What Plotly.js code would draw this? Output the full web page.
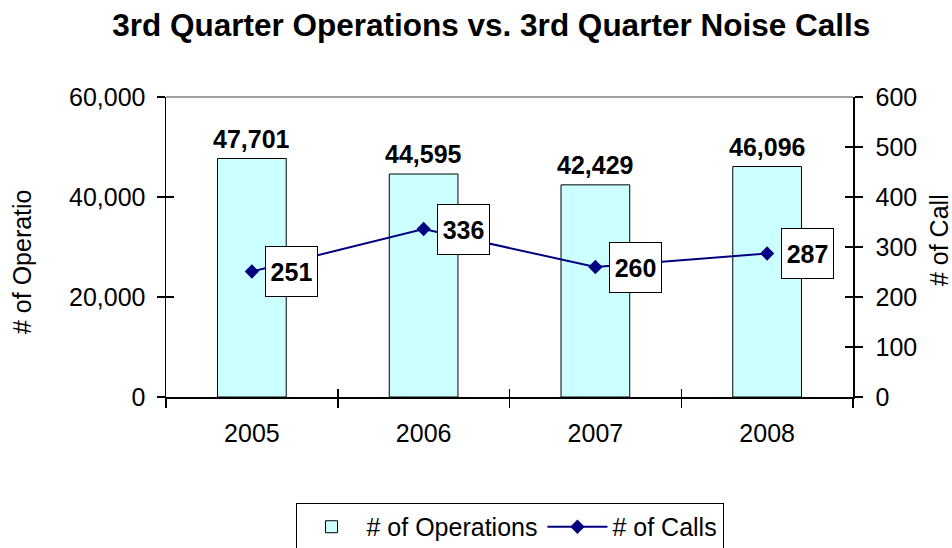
<!DOCTYPE html>
<html>
<head>
<meta charset="utf-8">
<script src="https://cdn.plot.ly/plotly-3.0.1.min.js"></script>
<style>html,body{margin:0;padding:0;background:#fff;}#chart{width:952px;height:548px;}</style>
</head>
<body>
<div id="chart"></div>
<script>
var years = ['2005', '2006', '2007', '2008'];
var operations = [47701, 44595, 42429, 46096];
var calls = [251, 336, 260, 287];
var seriesNames = ['# of Operations', '# of Calls'];
var chartTitle = '3rd Quarter Operations vs. 3rd Quarter Noise Calls';
var leftTitle = '# of Operatio';
var rightTitle = '# of Call';

var FONT = 'Liberation Sans, Arial, sans-serif';
var XRANGE = [-0.5, years.length - 0.5];

var traces = [
  {type: 'bar', name: seriesNames[0], x: years, y: operations, xaxis: 'x', yaxis: 'y',
   marker: {color: '#CCFFFF', line: {color: '#000000', width: 1}}, hoverinfo: 'skip'},
  {type: 'scatter', mode: 'lines+markers', name: seriesNames[1], x: years, y: calls, xaxis: 'x', yaxis: 'y2',
   line: {color: '#000080', width: 2}, marker: {symbol: 'diamond', size: 11, color: '#000080'}, hoverinfo: 'skip'},
  // invisible helpers so the inner half of the crossing tick marks gets drawn
  {type: 'scatter', mode: 'markers', x: years, y: operations, xaxis: 'x2', yaxis: 'y3',
   opacity: 0, showlegend: false, hoverinfo: 'skip'},
  {type: 'scatter', mode: 'markers', x: years, y: calls, xaxis: 'x2', yaxis: 'y4',
   opacity: 0, showlegend: false, hoverinfo: 'skip'}
];

var annotations = [];
years.forEach(function (yr, i) {
  annotations.push({x: i, y: operations[i], xref: 'x', yref: 'y',
    text: '<b>' + operations[i].toLocaleString('en-US') + '</b>',
    showarrow: false, xanchor: 'center', yanchor: 'bottom', yshift: 4,
    font: {family: FONT, size: 25, color: '#000'}});
  annotations.push({x: i, y: calls[i], xref: 'x', yref: 'y2', text: '<b>' + calls[i] + '</b>',
    showarrow: false, xanchor: 'center', yanchor: 'middle', xshift: 40,
    width: 45, height: 43, borderpad: 3, bordercolor: '#000', borderwidth: 1, bgcolor: '#fff',
    font: {family: FONT, size: 25, color: '#000'}});
});
annotations.push({x: -0.2096, y: 0.45, xref: 'paper', yref: 'paper', xanchor: 'center', yanchor: 'middle',
  text: leftTitle, textangle: -90, showarrow: false, font: {family: FONT, size: 25, color: '#000'}});
annotations.push({x: 1.1252, y: 0.5233, xref: 'paper', yref: 'paper', xanchor: 'center', yanchor: 'middle',
  text: rightTitle, textangle: -90, showarrow: false, font: {family: FONT, size: 25, color: '#000'}});

var layout = {
  width: 952, height: 548,
  margin: {l: 166, r: 99, t: 97, b: 151, pad: 0, autoexpand: false},
  paper_bgcolor: '#fff', plot_bgcolor: '#fff',
  font: {family: FONT, size: 25, color: '#000'},
  title: {text: '<b>' + chartTitle + '</b>', x: 0.516, xref: 'container', xanchor: 'center',
          y: 0.955, yref: 'container', yanchor: 'middle', font: {family: FONT, size: 31.5, color: '#000'}},
  bargap: 0.6,
  showlegend: true,
  legend: {orientation: 'h', x: 0.5, xanchor: 'center', y: -0.3533, yanchor: 'top',
           bordercolor: '#000', borderwidth: 1, bgcolor: '#fff', font: {family: FONT, size: 25, color: '#000'},
           itemwidth: 60, traceorder: 'normal'},
  xaxis: {type: 'category', range: XRANGE, autorange: false,
          showline: true, linecolor: '#000', linewidth: 1.5, showgrid: false, zeroline: false,
          ticks: 'outside', tickson: 'boundaries', ticklen: 9, tickcolor: '#000', tickwidth: 1.5,
          ticklabelstandoff: 13, tickangle: 0, tickfont: {family: FONT, size: 25, color: '#000'}},
  xaxis2: {type: 'category', range: XRANGE, autorange: false, overlaying: 'x', anchor: 'y', side: 'bottom',
           showline: false, showgrid: false, zeroline: false, showticklabels: false,
           ticks: 'inside', tickson: 'boundaries', ticklen: 8, tickcolor: '#000', tickwidth: 1.5},
  yaxis: {range: [0, 60000], dtick: 20000, tickformat: ',d', showline: true, linecolor: '#000', linewidth: 1.5,
          showgrid: false, zeroline: false, ticks: 'outside', ticklen: 8, tickcolor: '#000', tickwidth: 1.5,
          ticklabelstandoff: 6, tickfont: {family: FONT, size: 25, color: '#000'}},
  yaxis2: {range: [0, 600], dtick: 100, overlaying: 'y', side: 'right', anchor: 'x',
           showline: true, linecolor: '#000', linewidth: 1.5, showgrid: false, zeroline: false,
           ticks: 'outside', ticklen: 8, tickcolor: '#000', tickwidth: 1.5, ticklabelstandoff: 8,
           tickfont: {family: FONT, size: 25, color: '#000'}},
  yaxis3: {range: [0, 60000], dtick: 20000, overlaying: 'y', side: 'left', anchor: 'x2',
           showline: false, showgrid: false, zeroline: false, showticklabels: false,
           ticks: 'inside', ticklen: 8, tickcolor: '#000', tickwidth: 1.5},
  yaxis4: {range: [0, 600], dtick: 100, overlaying: 'y', side: 'right', anchor: 'x2',
           showline: false, showgrid: false, zeroline: false, showticklabels: false,
           ticks: 'inside', ticklen: 8, tickcolor: '#000', tickwidth: 1.5},
  shapes: [{type: 'line', xref: 'paper', yref: 'paper', x0: 0, x1: 1, y0: 1, y1: 1,
            line: {color: '#808080', width: 1.5}}],
  annotations: annotations
};

Plotly.newPlot('chart', traces, layout, {displayModeBar: false, staticPlot: true});
</script>
</body>
</html>
